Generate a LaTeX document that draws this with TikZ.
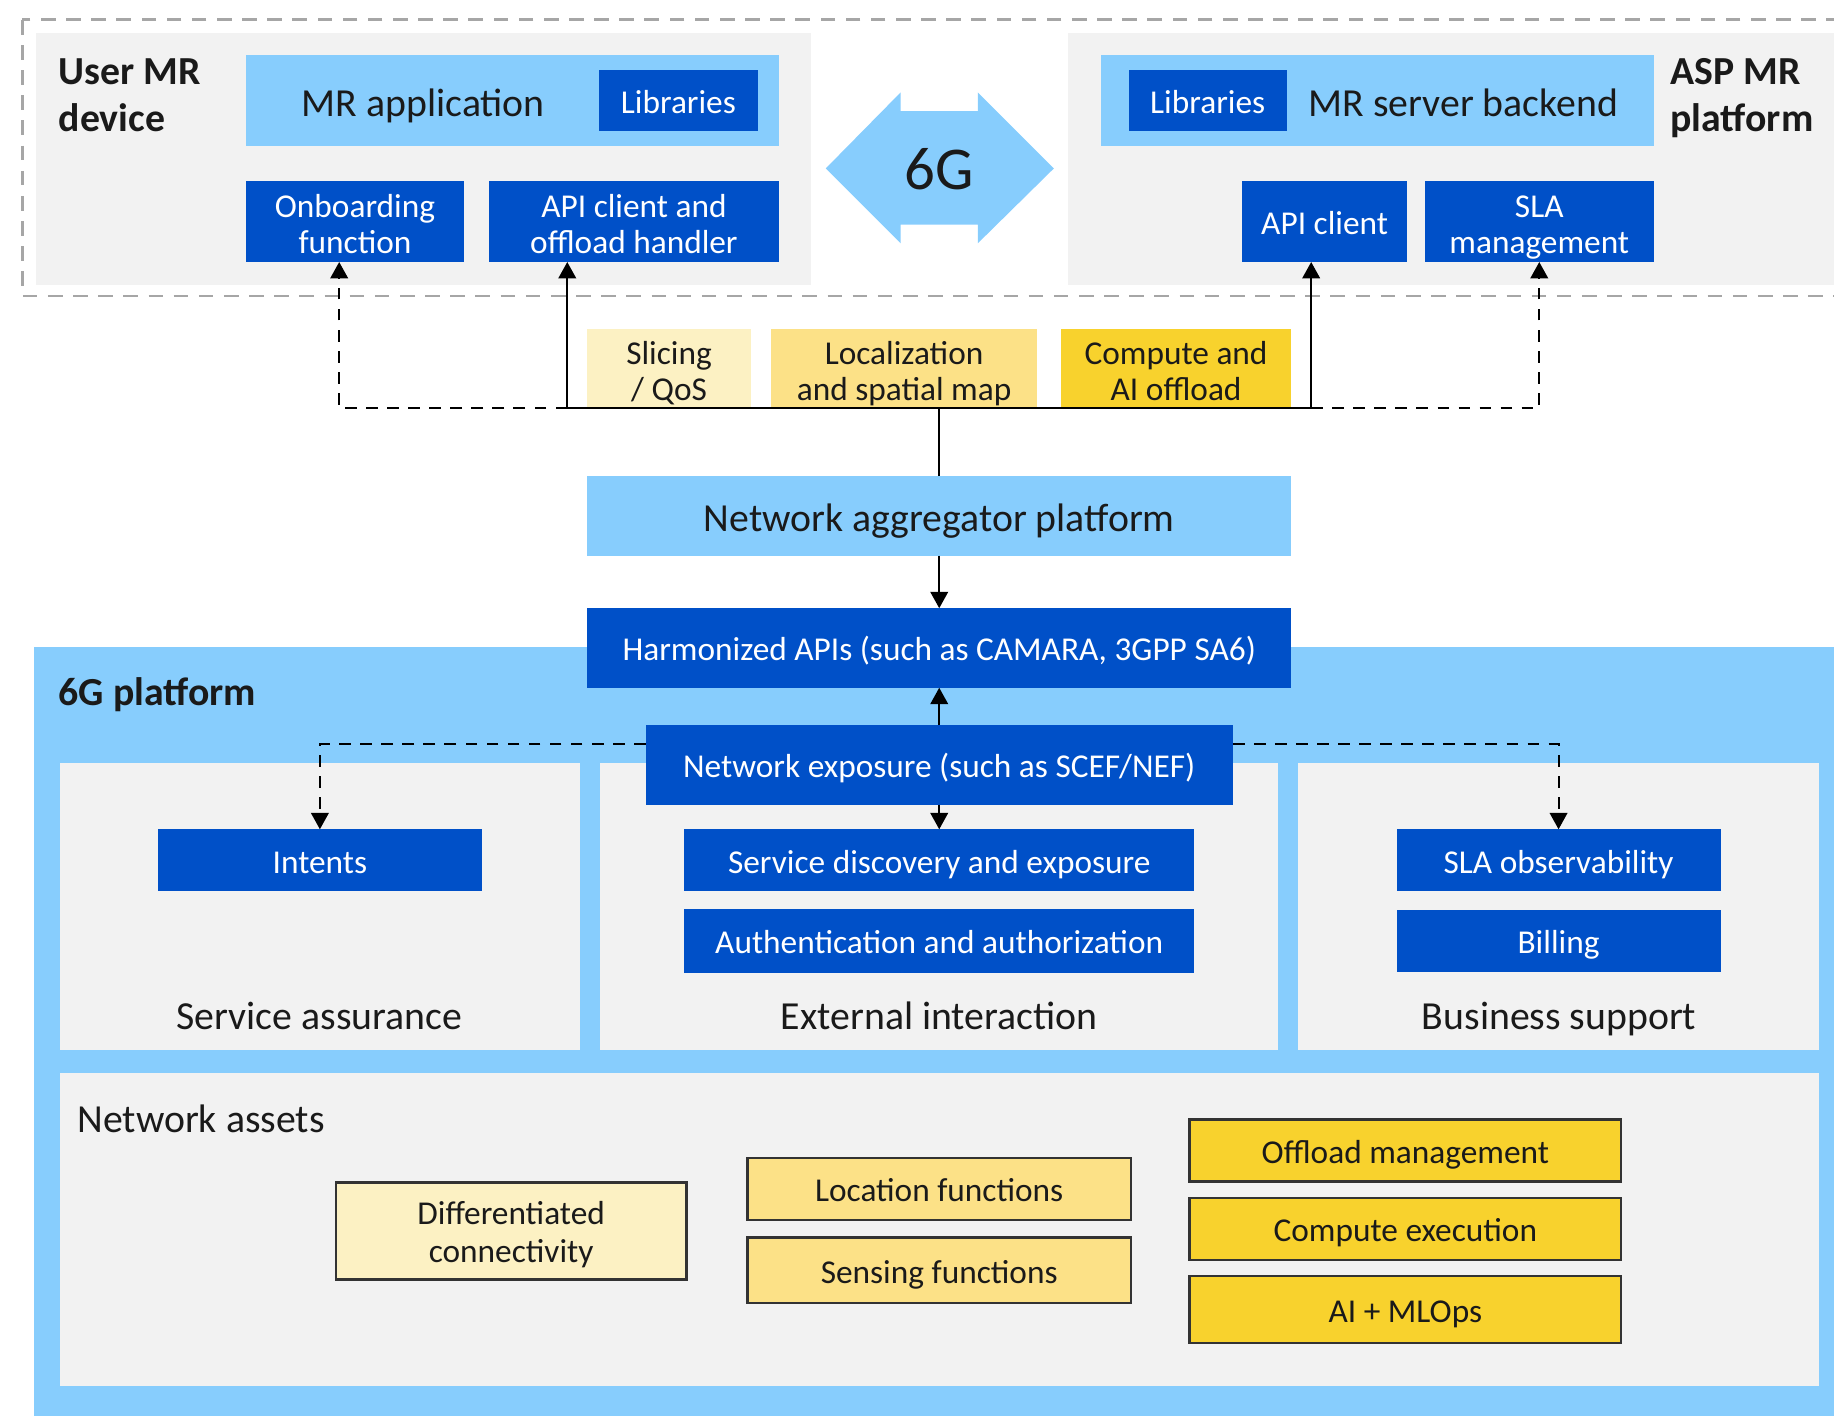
\documentclass[tikz,border=0pt]{standalone}
\usepackage{fontspec}
\setmainfont{Carlito}
\usetikzlibrary{arrows.meta,calc}
\definecolor{lblue}{HTML}{87CDFD}
\definecolor{dblue}{HTML}{0050C8}
\definecolor{pgrey}{HTML}{F2F2F2}
\definecolor{ylA}{HTML}{FCF1C3}
\definecolor{ylB}{HTML}{FCE187}
\definecolor{ylC}{HTML}{F8D22D}
\definecolor{txt}{HTML}{1A1A1A}
\definecolor{dgrey}{HTML}{A6A6A6}
\begin{document}
\begin{tikzpicture}[x=1pt,y=-1pt,
  bx/.style={rectangle, anchor=north west, inner sep=0pt, outer sep=0pt, align=center},
  wh/.style 2 args={minimum width=#1pt, minimum height=#2pt},
  bigf/.style={font=\fontsize{34}{40}\selectfont},
  boldf/.style={font=\fontsize{34}{40}\selectfont\bfseries},
  medf/.style={font=\fontsize{28.5}{31}\selectfont},
  strutmed/.style={execute at begin node={\rule{0pt}{29pt}}, execute at end node={\rule[-7pt]{0pt}{7pt}}},
  struttwo/.style={execute at begin node={}, execute at end node={}, text height=61.5pt, text depth=7pt},
  strutbig/.style={execute at begin node={\rule{0pt}{34pt}}, execute at end node={\rule[-8pt]{0pt}{8pt}}},
  dk/.style={bx, fill=dblue, text=white, medf, strutmed},
  lb/.style={bx, fill=lblue, text=txt},
  panel/.style={bx, fill=pgrey},
  ytop/.style={bx, text=txt, medf, strutmed},
  ybot/.style={bx, text=txt, medf, strutmed, draw=black!80, line width=2pt},
  conn/.style={line width=1.8pt, draw=black, -{Triangle[length=14pt,width=15pt]}},
  dconn/.style={conn, dash pattern=on 10pt off 8pt},
  plain/.style={line width=1.8pt, draw=black},
  lbl/.style={text=txt, inner sep=0pt, anchor=base west}
]
\useasboundingbox (0,0) rectangle (1568,1210);
\clip (0,0) rectangle (1568,1210);

% ---------- top region ----------
\draw[dgrey, line width=2.4pt, dash pattern=on 12.5pt off 9pt] (19,17) rectangle (1700,253);
\node[panel, wh={662}{216}] (pl) at (31,28) {};
\node[panel, wh={700}{216}] (pr) at (913,28) {};

\node[lbl, boldf, anchor=north west, align=left] (umr) at (50,50) {User MR\\device};
\node[lbl, boldf, anchor=north west, align=left] (asp) at (1428,50) {ASP MR\\platform};

\node[lb, wh={456}{78}] (mrapp) at (210,47) {};
\node[lbl, bigf, anchor=base] (mrapptxt) at (362,100) {MR application};
\node[dk, wh={136}{52}] (libl) at (512,60) {Libraries};
\node[dk, struttwo, wh={187}{69}] (onb) at (210,155) {Onboarding\\function};
\node[dk, struttwo, wh={248}{69}] (apil) at (418,155) {API client and\\offload handler};

\fill[lblue] (706,144) -- (770,79) -- (770,95) -- (836,95) -- (836,79) -- (901,144)
  -- (836,208) -- (836,192) -- (770,192) -- (770,208) -- cycle;
\node[text=txt, font=\fontsize{52}{52}\selectfont] (g6) at (803,145) {6G};

\node[lb, wh={473}{78}] (mrsrv) at (941,47) {};
\node[lbl, bigf, anchor=base] (mrsrvtxt) at (1251,100) {MR server backend};
\node[dk, wh={135}{52}] (libr) at (965,60) {Libraries};
\node[dk, wh={141}{69}] (apir) at (1062,155) {API client};
\node[dk, struttwo, wh={196}{69}] (sla) at (1218,155) {SLA\\management};

\node[ytop, struttwo, fill=ylA, wh={140}{68}] (slice) at (502,281) {Slicing\\/ QoS};
\node[ytop, struttwo, fill=ylB, wh={228}{68}] (locmap) at (659,281) {Localization\\and spatial map};
\node[ytop, struttwo, fill=ylC, wh={197}{68}] (cai) at (907,281) {Compute and\\AI offload};

\node[lb, bigf, strutbig, wh={602}{68}] (agg) at (502,407) {Network aggregator platform};

% ---------- 6G platform ----------
\node[bx, fill=lblue, wh={1600}{700}] (p6) at (29,553) {};
\node[lbl, boldf] (p6txt) at (50,603) {6G platform};

\node[panel, wh={445}{246}] (sa) at (51,652) {};
\node[panel, wh={580}{246}] (ei) at (513,652) {};
\node[panel, wh={445}{246}] (bs) at (1110,652) {};
\node[lbl, bigf, anchor=base] (satxt) at (273,880) {Service assurance};
\node[lbl, bigf, anchor=base] (eitxt) at (803,880) {External interaction};
\node[lbl, bigf, anchor=base] (bstxt) at (1333,880) {Business support};

\node[dk, wh={602}{68}] (harm) at (502,520) {Harmonized APIs (such as CAMARA, 3GPP SA6)};
\node[dk, wh={502}{68}] (nexp) at (552,620) {Network exposure (such as SCEF/NEF)};

\node[dk, wh={277}{53}] (intents) at (135,709) {Intents};
\node[dk, wh={436}{53}] (sde) at (585,709) {Service discovery and exposure};
\node[dk, wh={436}{55}] (auth) at (585,777) {Authentication and authorization};
\node[dk, wh={277}{53}] (slaobs) at (1194,709) {SLA observability};
\node[dk, wh={277}{53}] (bill) at (1194,778) {Billing};

\node[panel, wh={1504}{268}] (na) at (51,917) {};
\node[lbl, bigf] (natxt) at (66,968) {Network assets};

\node[ybot, struttwo, fill=ylA, wh={300}{83}, font=\fontsize{28.5}{33}\selectfont] (diff) at (287,1011) {Differentiated\\connectivity};
\node[ybot, fill=ylB, wh={328}{53}] (locf) at (639,990) {Location functions};
\node[ybot, fill=ylB, wh={328}{56}] (sens) at (639,1058) {Sensing functions};
\node[ybot, fill=ylC, wh={369}{53}] (offm) at (1017,957) {Offload management};
\node[ybot, fill=ylC, wh={369}{53}] (compx) at (1017,1024) {Compute execution};
\node[ybot, fill=ylC, wh={369}{57}] (aiml) at (1017,1091) {AI + MLOps};

% ---------- connectors ----------
\coordinate (hub) at (803,349);
\coordinate (cL) at (485,349);
\coordinate (cR) at (1121,349);
\coordinate (dL) at (290,349);
\coordinate (dR) at (1316,349);
\draw[plain] (agg.north) -- (hub);
\draw[conn] (hub) -- (cL) -- (apil.south -| cL);
\draw[conn] (hub) -- (cR) -- (apir.south -| cR);
\draw[dconn] (cL) -- (dL) -- (onb.south -| dL);
\draw[dconn] (cR) -- (dR) -- (sla.south -| dR);

\draw[conn] (agg.south) -- (harm.north);
\draw[conn] (nexp.north) -- (harm.south);
\draw[conn] (nexp.south) -- (sde.north);
\coordinate (eL) at ($(nexp.north west)+(0,16)$);
\coordinate (eR) at ($(nexp.north east)+(0,16)$);
\draw[dconn] (eL) -| (intents.north);
\draw[dconn] (eR) -| (slaobs.north);
\end{tikzpicture}
\end{document}
